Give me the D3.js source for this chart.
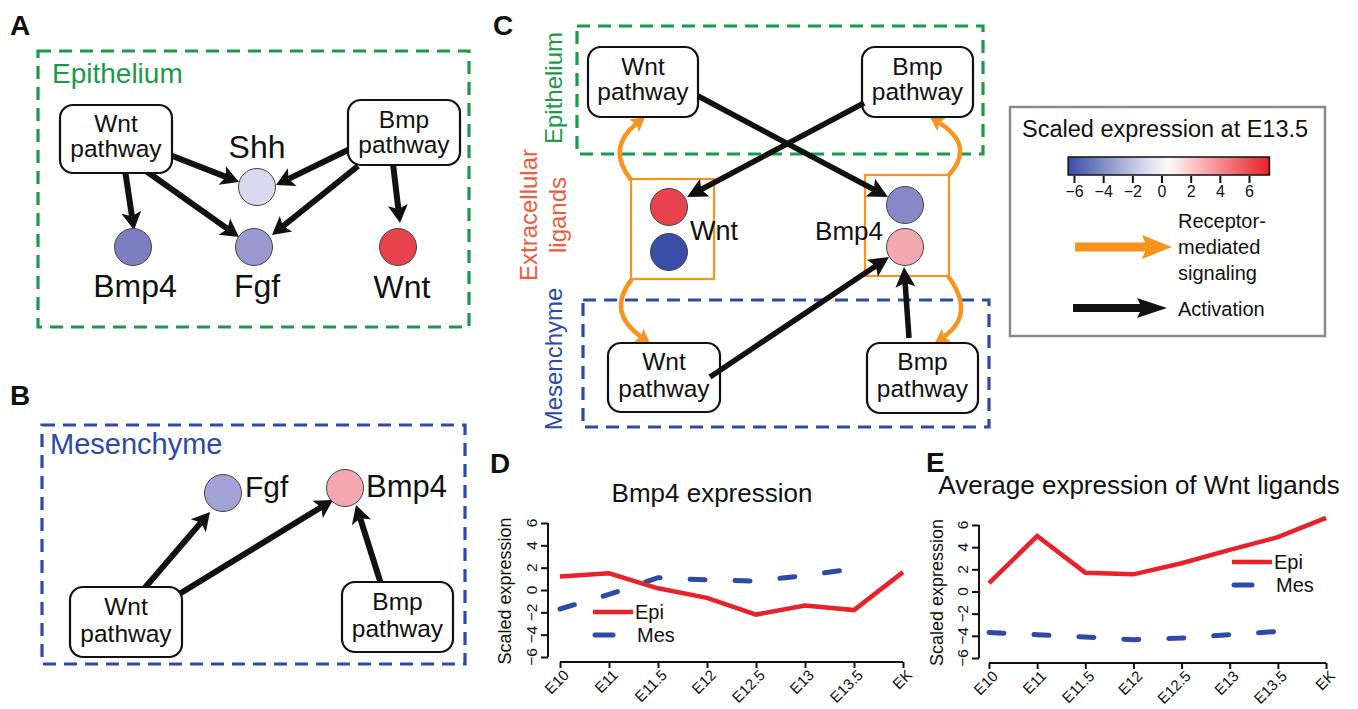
<!doctype html>
<html>
<head>
<meta charset="utf-8">
<script src="https://d3js.org/d3.v7.min.js"></script>
<style>
  body { margin: 0; background: #fff; }
  svg text { font-family: "Liberation Sans", Arial, Helvetica, sans-serif; fill: #111; }
</style>
</head>
<body>
<svg id="fig" width="1358" height="709"></svg>
<script>
// ---- chart data ----
var stages = ["E10", "E11", "E11.5", "E12", "E12.5", "E13", "E13.5", "EK"];
var bmp4Epi = [1.2, 1.5, 0.15, -0.7, -2.2, -1.4, -1.8, 1.6];
var bmp4Mes = [-1.7, -0.4, 1.1, 0.9, 0.8, 1.3, 1.9];
var wntEpi = [0.75, 5.0, 1.7, 1.55, 2.55, 3.75, 4.9, 6.65];
var wntMes = [-3.7, -3.9, -4.1, -4.35, -4.2, -3.9, -3.6];
var yTicks = [-6, -4, -2, 0, 2, 4, 6];
var colorTicks = [-6, -4, -2, 0, 2, 4, 6];
var colorRange = [-6.4, 7.4];

var RED = "#e8212b", BLUE = "#2c4aa6", GREEN = "#1a9a4a", ORANGE = "#f7941d";
var svg = d3.select("#fig");

// draws a thick arrow with a barbed head
function arrow(g, x1, y1, x2, y2, o) {
    o = Object.assign({ w: 6, hl: 18, hw: 10, notch: 4, color: "#111" }, o || {});
    var dx = x2 - x1, dy = y2 - y1, L = Math.hypot(dx, dy);
    var ux = dx / L, uy = dy / L, nx = -uy, ny = ux;
    var bx = x2 - o.hl * ux, by = y2 - o.hl * uy;
    var sx = x2 - (o.hl - o.notch) * ux, sy = y2 - (o.hl - o.notch) * uy;
    g.append("line").attr("x1", x1).attr("y1", y1).attr("x2", sx).attr("y2", sy)
        .attr("stroke", o.color).attr("stroke-width", o.w);
    g.append("polygon")
        .attr("points", [[x2, y2], [bx + o.hw * nx, by + o.hw * ny], [sx, sy], [bx - o.hw * nx, by - o.hw * ny]].join(" "))
        .attr("fill", o.color);
}

// curved orange arrow (quadratic)
function curvedArrow(g, p0, c, p1, o) {
    o = Object.assign({ w: 4.5, hl: 14, hw: 8, notch: 3, color: ORANGE }, o || {});
    var dx = p1[0] - c[0], dy = p1[1] - c[1], L = Math.hypot(dx, dy);
    var ux = dx / L, uy = dy / L, nx = -uy, ny = ux;
    var bx = p1[0] - o.hl * ux, by = p1[1] - o.hl * uy;
    var sx = p1[0] - (o.hl - o.notch) * ux, sy = p1[1] - (o.hl - o.notch) * uy;
    var path = d3.path();
    path.moveTo(p0[0], p0[1]);
    path.quadraticCurveTo(c[0], c[1], sx, sy);
    g.append("path").attr("d", path.toString()).attr("fill", "none")
        .attr("stroke", o.color).attr("stroke-width", o.w);
    g.append("polygon")
        .attr("points", [p1, [bx + o.hw * nx, by + o.hw * ny], [sx, sy], [bx - o.hw * nx, by - o.hw * ny]].join(" "))
        .attr("fill", o.color);
}

function pathwayBox(g, x, y, w, h, name, l1, l2) {
    g.append("rect").attr("x", x).attr("y", y).attr("width", w).attr("height", h)
        .attr("rx", 13).attr("fill", "#fff").attr("stroke", "#111").attr("stroke-width", 2.2);
    g.append("text").attr("x", x + w / 2).attr("y", y + l1).attr("text-anchor", "middle")
        .attr("font-size", 24.5).text(name);
    g.append("text").attr("x", x + w / 2).attr("y", y + l2).attr("text-anchor", "middle")
        .attr("font-size", 24.5).text("pathway");
}

function node(g, cx, cy, fill) {
    g.append("circle").attr("cx", cx).attr("cy", cy).attr("r", 18.5)
        .attr("fill", fill).attr("stroke", "#444").attr("stroke-width", 1);
}

function label(g, x, y, t, size, anchor, color, weight) {
    return g.append("text").attr("x", x).attr("y", y).attr("font-size", size)
        .attr("text-anchor", anchor || "start").attr("font-weight", weight || "normal")
        .style("fill", color || "#111").text(t);
}

function dashedBox(g, x, y, w, h, color) {
    g.append("rect").attr("x", x).attr("y", y).attr("width", w).attr("height", h)
        .attr("fill", "none").attr("stroke", color).attr("stroke-width", 3.2)
        .attr("stroke-dasharray", "13,8");
}

// ---------------- Panel A ----------------
var gA = svg.append("g");
label(gA, 10, 35, "A", 28, "start", "#111", "bold");
dashedBox(gA, 38, 51, 431, 276, GREEN);
label(gA, 52, 83, "Epithelium", 28, "start", GREEN);
arrow(gA, 170, 155, 239, 182);
arrow(gA, 146, 171, 239, 237);
arrow(gA, 125, 170, 134, 230);
arrow(gA, 350, 149, 276, 185);
arrow(gA, 358, 166, 272, 235);
arrow(gA, 393, 164, 400, 223);
pathwayBox(gA, 60, 105, 112, 68, "Wnt", 27, 52);
pathwayBox(gA, 348, 100, 112, 65, "Bmp", 28, 53);
node(gA, 257, 187, "#d9daef");
node(gA, 133, 247, "#7b7fc1");
node(gA, 254, 247, "#9799cf");
node(gA, 398, 247, "#e8424c");
label(gA, 257, 158, "Shh", 32, "middle");
label(gA, 135, 297, "Bmp4", 32, "middle");
label(gA, 257, 297, "Fgf", 32, "middle");
label(gA, 402, 298, "Wnt", 32, "middle");

// ---------------- Panel B ----------------
var gB = svg.append("g");
label(gB, 10, 405, "B", 28, "start", "#111", "bold");
dashedBox(gB, 42, 425, 423, 239, BLUE);
label(gB, 50, 454, "Mesenchyme", 29, "start", BLUE);
arrow(gB, 143, 590, 210, 512);
arrow(gB, 176, 596, 333, 500);
arrow(gB, 381, 584, 356, 505);
pathwayBox(gB, 70, 587, 112, 70, "Wnt", 28, 55);
pathwayBox(gB, 342, 582, 111, 70, "Bmp", 28, 55);
node(gB, 223, 493, "#a2a4d8");
node(gB, 345, 488, "#f3a8b2");
label(gB, 245, 497, "Fgf", 30, "start");
label(gB, 366, 497, "Bmp4", 31, "start");

// ---------------- Panel C ----------------
var gC = svg.append("g");
label(gC, 493, 35, "C", 28, "start", "#111", "bold");
dashedBox(gC, 577, 26, 406, 128, GREEN);
dashedBox(gC, 583, 300, 406, 127, BLUE);
gC.append("text").attr("transform", "translate(562,88) rotate(-90)").attr("text-anchor", "middle")
    .attr("font-size", 24).style("fill", GREEN).text("Epithelium");
gC.append("text").attr("transform", "translate(537,215) rotate(-90)").attr("text-anchor", "middle")
    .attr("font-size", 24).style("fill", "#ef5b3b").text("Extracellular");
gC.append("text").attr("transform", "translate(566,215) rotate(-90)").attr("text-anchor", "middle")
    .attr("font-size", 24).style("fill", "#ef5b3b").text("ligands");
gC.append("text").attr("transform", "translate(562,359) rotate(-90)").attr("text-anchor", "middle")
    .attr("font-size", 24).style("fill", BLUE).text("Mesenchyme");
// ligand boxes
gC.append("rect").attr("x", 631).attr("y", 179).attr("width", 83).attr("height", 100)
    .attr("fill", "none").attr("stroke", ORANGE).attr("stroke-width", 2.2);
gC.append("rect").attr("x", 865).attr("y", 175).attr("width", 84).attr("height", 101)
    .attr("fill", "none").attr("stroke", ORANGE).attr("stroke-width", 2.2);
curvedArrow(gC, [631, 180], [606, 148], [645, 117]);
curvedArrow(gC, [632, 279], [606, 312], [650, 343]);
curvedArrow(gC, [948, 176], [976, 146], [930, 117]);
curvedArrow(gC, [948, 276], [976, 314], [935, 343]);
pathwayBox(gC, 588, 47, 110, 70, "Wnt", 28, 53);
pathwayBox(gC, 862, 47, 111, 70, "Bmp", 28, 53);
pathwayBox(gC, 608, 343, 112, 69, "Wnt", 27, 54);
pathwayBox(gC, 867, 343, 111, 70, "Bmp", 27, 54);
var cArrow = { w: 5.5, hl: 20, hw: 10, notch: 4 };
arrow(gC, 698, 96, 888, 197, cArrow);
arrow(gC, 864, 103, 687, 197, cArrow);
arrow(gC, 710, 377, 889, 257, cArrow);
arrow(gC, 909, 338, 904, 267, cArrow);
node(gC, 669, 207, "#e8424c");
node(gC, 669, 252, "#3a4ea7");
node(gC, 905, 205, "#8688c8");
node(gC, 905, 247, "#f3a8b2");
label(gC, 690, 240, "Wnt", 27, "start");
label(gC, 883, 240, "Bmp4", 26, "end");

// ---------------- Legend ----------------
var gL = svg.append("g");
gL.append("rect").attr("x", 1010).attr("y", 107).attr("width", 315).attr("height", 229)
    .attr("fill", "#fff").attr("stroke", "#8a8a8a").attr("stroke-width", 2.5);
label(gL, 1022, 137, "Scaled expression at E13.5", 23.5, "start");
var cx = d3.scaleLinear().domain([-6, 6]).range([1074, 1249]);
var cgrad = svg.append("defs").append("linearGradient").attr("id", "cgrad");
var cCol = d3.scaleLinear().domain([colorRange[0], 0.3, colorRange[1]]).range(["#3a4ea7", "#ffffff", RED]);
d3.range(0, 1.0001, 0.1).forEach(function (t) {
    var v = colorRange[0] + t * (colorRange[1] - colorRange[0]);
    cgrad.append("stop").attr("offset", t).attr("stop-color", cCol(v));
});
gL.append("rect").attr("x", cx(colorRange[0])).attr("y", 157)
    .attr("width", cx(colorRange[1]) - cx(colorRange[0])).attr("height", 18)
    .attr("fill", "url(#cgrad)").attr("stroke", "#111").attr("stroke-width", 1.5);
gL.append("g").attr("transform", "translate(0,176)")
    .call(d3.axisBottom(cx).tickValues(colorTicks).tickSize(7).tickPadding(3)
        .tickFormat(function (d) { return d < 0 ? "\u2212" + (-d) : d; }))
    .call(function (g) {
        g.select(".domain").remove();
        g.selectAll(".tick line").attr("stroke", "#111").attr("stroke-width", 2);
        g.selectAll(".tick text").attr("font-size", 16).style("fill", "#111")
            .style("font-family", "Liberation Sans, Arial, sans-serif");
    });
arrow(gL, 1075, 247, 1172, 247, { w: 9, hl: 30, hw: 12, notch: 5, color: ORANGE });
arrow(gL, 1073, 308, 1167, 308, { w: 8, hl: 30, hw: 10, notch: 5, color: "#111" });
label(gL, 1178, 228, "Receptor-", 20);
label(gL, 1178, 254, "mediated", 20);
label(gL, 1178, 280, "signaling", 20);
label(gL, 1178, 316, "Activation", 20);

// ---------------- Line charts D & E ----------------
function lineChart(o) {
    var g = svg.append("g");
    label(g, o.letterX, o.letterY, o.letter, 28, "start", "#111", "bold");
    label(g, o.titleX, o.titleY, o.title, 26, "middle");
    var x = d3.scalePoint().domain(stages).range([o.x0, o.x1]);
    var y = d3.scaleLinear().domain([-6, 6]).range([o.y0, o.y1]);
    // y axis
    g.append("g").attr("transform", "translate(" + o.ax + ",0)")
        .call(d3.axisLeft(y).tickValues(yTicks).tickSize(7).tickFormat(""))
        .call(function (s) {
            s.select(".domain").attr("stroke", "#111").attr("stroke-width", 2).attr("d", "M0," + y(-6) + "V" + y(6));
            s.selectAll(".tick line").attr("stroke", "#111").attr("stroke-width", 2);
        });
    g.selectAll(".ylab").data(yTicks).enter().append("text")
        .attr("transform", function (d) { return "translate(" + (o.ax - 11) + "," + y(d) + ") rotate(-90)"; })
        .attr("text-anchor", "middle").attr("font-size", 15.5)
        .text(function (d) { return d < 0 ? "\u2212" + (-d) : d; });
    g.append("text").attr("transform", "translate(" + o.ytX + "," + ((o.y0 + o.y1) / 2 + 1) + ") rotate(-90)")
        .attr("text-anchor", "middle").attr("font-size", 18).text("Scaled expression");
    // x axis
    g.append("g").attr("transform", "translate(0," + o.axY + ")")
        .call(d3.axisBottom(x).tickSize(6).tickFormat(""))
        .call(function (s) {
            s.select(".domain").attr("stroke", "#111").attr("stroke-width", 2).attr("d", "M" + o.x0 + ",0H" + o.x1);
            s.selectAll(".tick line").attr("stroke", "#111").attr("stroke-width", 2);
        });
    g.selectAll(".xlab").data(stages).enter().append("text")
        .attr("transform", function (d) { return "translate(" + (x(d) + 10) + "," + (o.axY + 14) + ") rotate(-45)"; })
        .attr("text-anchor", "end").attr("font-size", 15).text(function (d) { return d; });
    // series
    var line = d3.line().x(function (d, i) { return x(stages[i]); }).y(function (d) { return y(d); });
    g.append("path").datum(o.mes).attr("d", line).attr("fill", "none").attr("stroke", BLUE)
        .attr("stroke-width", 5).attr("stroke-linecap", "round").attr("stroke-dasharray", "15,30");
    g.append("path").datum(o.epi).attr("d", line).attr("fill", "none").attr("stroke", RED)
        .attr("stroke-width", 4.5).attr("stroke-linejoin", "miter");
    // legend
    g.append("line").attr("x1", o.lx).attr("x2", o.lx + 40).attr("y1", o.ly).attr("y2", o.ly)
        .attr("stroke", RED).attr("stroke-width", 4.5);
    label(g, o.lx + 42, o.ly + 7, "Epi", 20);
    g.append("line").attr("x1", o.lx + 2).attr("x2", o.lx + 42).attr("y1", o.ly + 23).attr("y2", o.ly + 23)
        .attr("stroke", BLUE).attr("stroke-width", 5).attr("stroke-linecap", "round").attr("stroke-dasharray", "18,40");
    label(g, o.lx + 44, o.ly + 30, "Mes", 20);
}

lineChart({
    letter: "D", letterX: 490, letterY: 473, title: "Bmp4 expression", titleX: 712, titleY: 502,
    x0: 560, x1: 903, y0: 657, y1: 523, ax: 548, axY: 662, ytX: 511,
    epi: bmp4Epi, mes: bmp4Mes, lx: 593, ly: 612
});
lineChart({
    letter: "E", letterX: 926, letterY: 472, title: "Average expression of Wnt ligands", titleX: 1139, titleY: 494,
    x0: 989, x1: 1326, y0: 658, y1: 525, ax: 979, axY: 663, ytX: 943,
    epi: wntEpi, mes: wntMes, lx: 1232, ly: 562
});
</script>
</body>
</html>
